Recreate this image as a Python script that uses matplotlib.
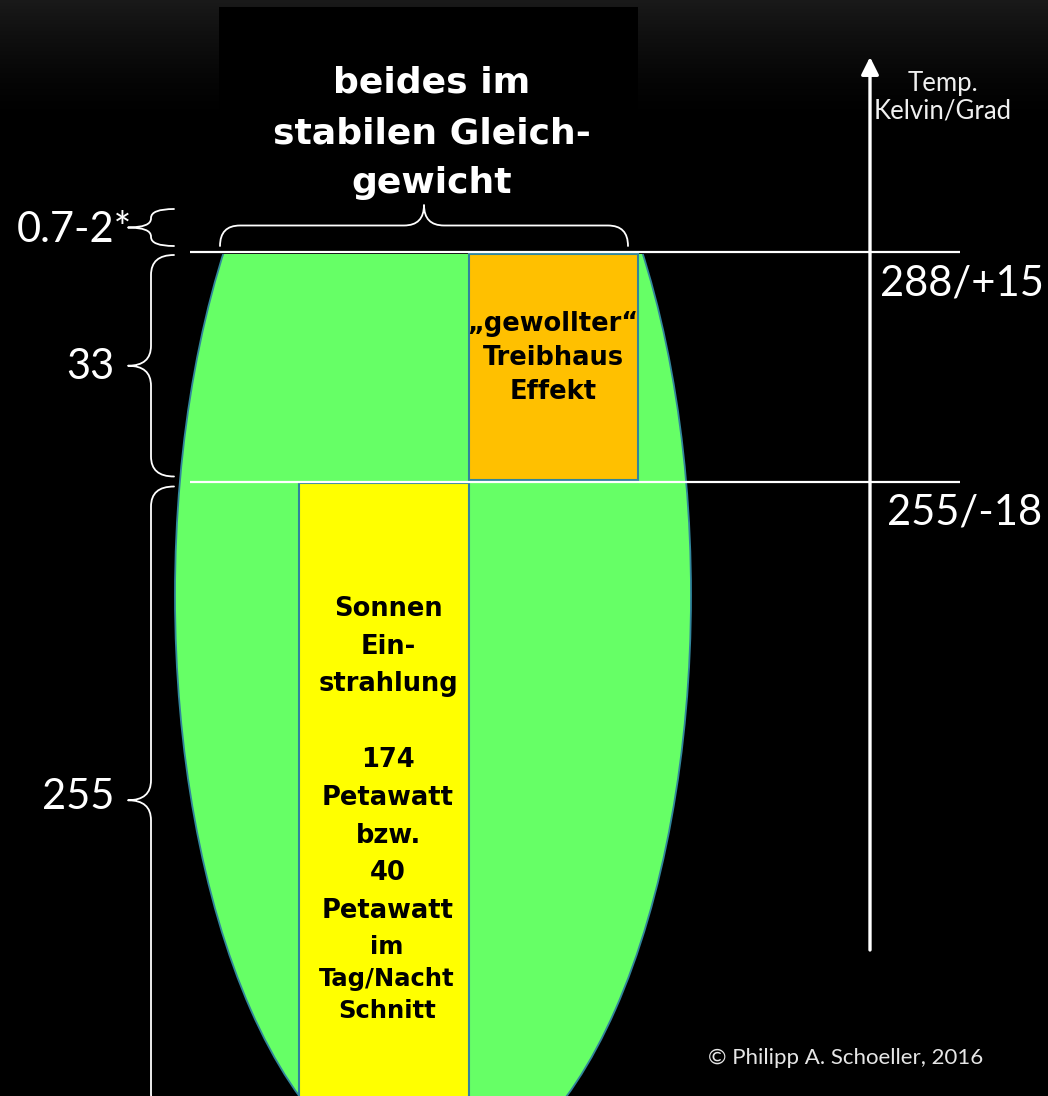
import matplotlib.pyplot as plt
import numpy as np
from matplotlib.patches import Ellipse, Rectangle, PathPatch
from matplotlib.path import Path

# --- values -------------------------------------------------------------
T_SURFACE = 288          # Kelvin, mean surface temperature (+15 C)
T_EFFECTIVE = 255        # Kelvin, without greenhouse effect (-18 C)
LEVEL_TEMPS = [T_SURFACE, T_EFFECTIVE]
LEVEL_LABELS = ["288/+15", "255/-18"]

BRACE_LABELS = ["0.7-2*", "33", str(T_EFFECTIVE)]

TITLE_TEXT = "beides im\nstabilen Gleich-\ngewicht"
AXIS_TEXT = "Temp.\nKelvin/Grad"
GREENHOUSE_TEXT = "\u201egewollter\u201c\nTreibhaus\nEffekt"
SUN_TEXT = "Sonnen\nEin-\nstrahlung\n\n174\nPetawatt\nbzw.\n40\nPetawatt"
SUN_NOTE = "im\nTag/Nacht\nSchnitt"
CREDIT = "\u00a9 Philipp A. Schoeller, 2016"

# --- layout / style -----------------------------------------------------
W_PX, H_PX = 1048, 1096
LINE_TOP_PX = 252.0
LINE_BASE_PX = 481.5
PX_PER_K = (LINE_BASE_PX - LINE_TOP_PX) / (T_SURFACE - T_EFFECTIVE)

GREEN = "#66ff66"
ORANGE = "#ffc000"
YELLOW = "#ffff00"
EDGE = "#31859c"
THIN_FONT = ["Lato", "DejaVu Sans"]
BOLD_FONT = ["DejaVu Sans"]


def k(py):
    """pixel row -> Kelvin on the diagram's vertical scale"""
    return T_SURFACE + (LINE_TOP_PX - py) / PX_PER_K


def px(t):
    return LINE_TOP_PX + (T_SURFACE - t) * PX_PER_K


def brace(ax, a0, a1, base, tip, r, vertical=True, lw=1.3):
    mid = (a0 + a1) / 2.0
    sp = (base + tip) / 2.0
    r = min(r, (a1 - a0) / 4.0)
    pts = [(base, a0), (sp, a0), (sp, a0 + r), (sp, mid - r), (sp, mid),
           (tip, mid), (sp, mid), (sp, mid + r), (sp, a1 - r), (sp, a1),
           (base, a1)]
    codes = [Path.MOVETO, Path.CURVE3, Path.CURVE3, Path.LINETO, Path.CURVE3,
             Path.CURVE3, Path.CURVE3, Path.CURVE3, Path.LINETO, Path.CURVE3,
             Path.CURVE3]
    if vertical:
        verts = [(b, k(a)) for b, a in pts]
    else:
        verts = [(a, k(b)) for b, a in pts]
    ax.add_patch(PathPatch(Path(verts, codes), fill=False, edgecolor="white",
                           lw=lw, capstyle="round", joinstyle="round", zorder=6))


fig = plt.figure(figsize=(W_PX / 100, H_PX / 100), dpi=100)
fig.patch.set_facecolor("black")
ax = fig.add_axes([0, 0, 1, 1])
ax.set_xlim(0, W_PX)
ax.set_ylim(k(H_PX), k(0))
ax.axis("off")

# dark gradient at the top of the slide
rows = np.arange(H_PX)
shade = 0.1 * np.clip(1 - rows / 120.0, 0, 1) ** 1.4
ax.imshow(np.repeat(shade[:, None], 2, axis=1), cmap="gray", vmin=0, vmax=1,
          extent=[0, W_PX, k(H_PX), k(0)], aspect="auto", zorder=0)
ax.add_patch(Rectangle((219, k(250)), 419, k(7) - k(250), facecolor="black",
                       edgecolor="none", zorder=1))

# green body, cut flat at the surface level
body = Ellipse((433, k(595)), 516, 1172 / PX_PER_K, facecolor=GREEN,
               edgecolor=EDGE, lw=1.3, zorder=2)
ax.add_patch(body)
clip = Rectangle((0, k(H_PX + 50)), W_PX, T_SURFACE - k(H_PX + 50) - 0.25,
                 transform=ax.transData, visible=False)
ax.add_patch(clip)
body.set_clip_path(clip)

# greenhouse block (255 -> 288) and solar block (below 255)
ax.add_patch(Rectangle((469, T_EFFECTIVE + 0.25), 169,
                       T_SURFACE - T_EFFECTIVE - 0.55, facecolor=ORANGE,
                       edgecolor=EDGE, lw=1.5, zorder=3))
ax.add_patch(Rectangle((299, k(H_PX + 20)), 170,
                       T_EFFECTIVE - 0.2 - k(H_PX + 20), facecolor=YELLOW,
                       edgecolor=EDGE, lw=1.5, zorder=3))

# level lines and labels
for t, lab, xc in zip(LEVEL_TEMPS, LEVEL_LABELS, [962, 965]):
    ax.plot([190, 960], [t, t], color="white", lw=1.6, zorder=5,
            solid_capstyle="butt")
    ax.text(xc, t - 31 / PX_PER_K, lab, color="white", fontsize=30,
            family=THIN_FONT, ha="center", va="center", zorder=7)

# temperature arrow
ax.annotate("", xy=(870, k(57)), xytext=(870, k(950)),
            arrowprops=dict(arrowstyle="-|>,head_length=0.7,head_width=0.35",
                            color="white", lw=2.4, mutation_scale=15,
                            shrinkA=0, shrinkB=0), zorder=6)
ax.text(943, k(97), AXIS_TEXT, color="#f0f0f0", fontsize=18.5,
        family=THIN_FONT, ha="center", va="center", linespacing=1.1,
        zorder=7)

# braces on the left
brace(ax, 209, 246, 174, 128, 9)
brace(ax, px(T_SURFACE) + 3, px(T_EFFECTIVE) - 5, 174, 128, 20)
brace(ax, px(T_EFFECTIVE) + 5, 1114, 174, 128, 20)
brace(ax, 220, 628, 246, 205, 20, vertical=False)

for lab, xr, yc in zip(BRACE_LABELS, [132, 114, 114], [230, 367, 797]):
    ax.text(xr, k(yc), lab, color="white", fontsize=30, family=THIN_FONT,
            ha="right", va="center", zorder=7)

# texts
ax.text(432, k(133), TITLE_TEXT, color="white", fontsize=26,
        family=BOLD_FONT, fontweight="bold", ha="center", va="center",
        linespacing=1.6, zorder=7)
ax.text(553, k(358), GREENHOUSE_TEXT, color="black", fontsize=18.5,
        family=BOLD_FONT, fontweight="bold", ha="center", va="center",
        linespacing=1.42, zorder=7)
ax.text(388, k(760), SUN_TEXT, color="black", fontsize=18.5,
        family=BOLD_FONT, fontweight="bold", ha="center", va="center",
        linespacing=1.59, zorder=7)
ax.text(387, k(979), SUN_NOTE, color="black", fontsize=17.5,
        family=BOLD_FONT, fontweight="bold", ha="center", va="center",
        linespacing=1.42, zorder=7)
ax.text(846, k(1058), CREDIT, color="#e6e6e6", fontsize=16,
        family=THIN_FONT, ha="center", va="center", zorder=7)

fig.savefig("out.png", dpi=100, facecolor="black")
